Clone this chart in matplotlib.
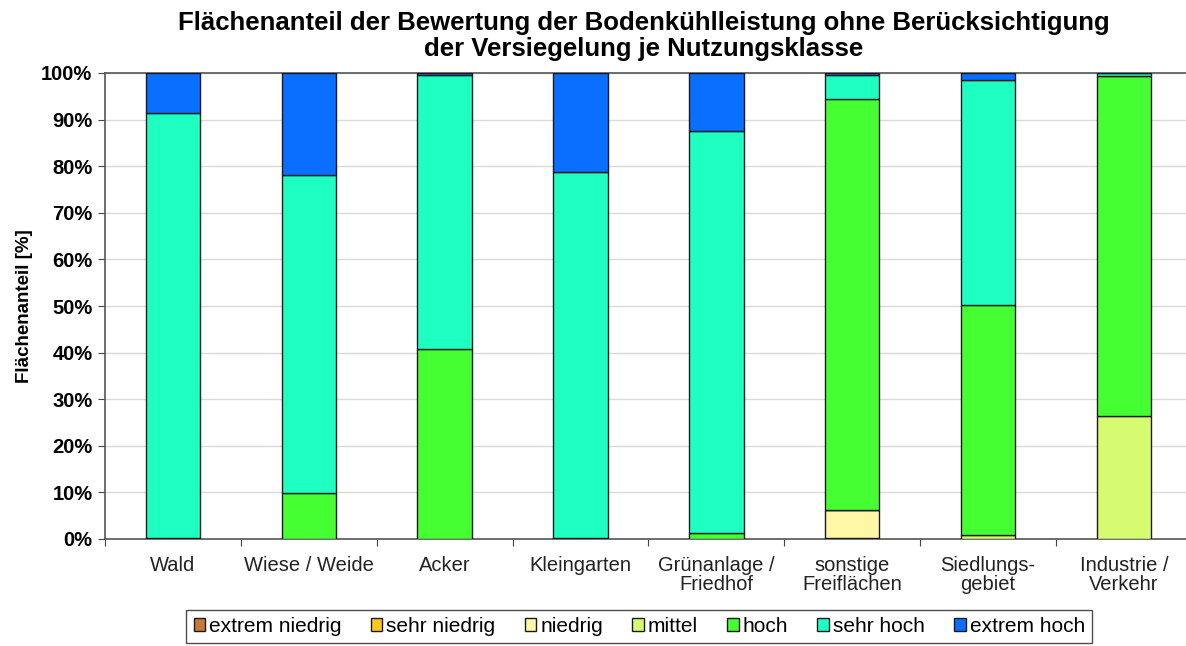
import matplotlib
matplotlib.use('Agg')
import matplotlib.pyplot as plt
import numpy as np

plt.rcParams['font.family'] = ['Liberation Sans', 'DejaVu Sans']

# Daten (Flächenanteil in %)
kategorien = ['Wald', 'Wiese / Weide', 'Acker', 'Kleingarten', 'Grünanlage /\nFriedhof',
              'sonstige\nFreiflächen', 'Siedlungs-\ngebiet', 'Industrie /\nVerkehr']
klassen = ['extrem niedrig', 'sehr niedrig', 'niedrig', 'mittel', 'hoch', 'sehr hoch', 'extrem hoch']
farben = ['#C8783A', '#FFC61E', '#FFF6A6', '#D6FA70', '#46FF32', '#1EFFC2', '#0A6EFF']

extrem_niedrig = [0.0, 0.0, 0.0, 0.0, 0.0, 0.2, 0.0, 0.0]
sehr_niedrig = [0.0, 0.0, 0.0, 0.0, 0.0, 0.1, 0.0, 0.0]
niedrig = [0.0, 0.0, 0.0, 0.0, 0.0, 5.9, 0.0, 0.0]
mittel = [0.0, 0.0, 0.0, 0.0, 0.0, 0.0, 0.8, 26.4]
hoch = [0.3, 9.9, 40.8, 0.3, 1.3, 88.2, 49.4, 72.9]
sehr_hoch = [91.2, 68.2, 58.8, 78.5, 86.3, 5.2, 48.2, 0.7]
extrem_hoch = [8.5, 21.9, 0.4, 21.2, 12.4, 0.4, 1.6, 0.0]

werte = [extrem_niedrig, sehr_niedrig, niedrig, mittel, hoch, sehr_hoch, extrem_hoch]

fig = plt.figure(figsize=(11.86, 6.46), dpi=100)
ax = fig.add_axes([105 / 1186, 107 / 646, 1 - 105 / 1186 + 0.005, 466 / 646])

x = np.arange(len(kategorien))
unten = np.zeros(len(kategorien))
for name, farbe, w in zip(klassen, farben, werte):
    ax.bar(x, w, bottom=unten, width=0.4, color=farbe, edgecolor='#1a1a1a',
           linewidth=1.0, label=name, zorder=3)
    unten += np.array(w)

ax.set_xlim(-0.5, 7.5)
ax.set_ylim(0, 100)
ax.set_yticks(np.arange(0, 101, 10))
ax.set_yticklabels([f'{v}%' for v in range(0, 101, 10)], fontsize=14.5, fontweight='bold')
ax.set_xticks(np.arange(-0.5, 7.5, 1), minor=False)
ax.set_xticklabels([])
ax.set_xticks(x, minor=True)
ax.set_xticklabels(kategorien, minor=True, fontsize=14.5, color='#222222', linespacing=1.0)
ax.tick_params(axis='x', which='minor', length=0, pad=12)
ax.tick_params(axis='x', which='major', length=5, direction='out', color='#444444')
ax.tick_params(axis='y', length=5, color='#444444', pad=4)
ax.grid(axis='y', color='#d9d9d9', linewidth=1.0, zorder=0)

ax.spines['right'].set_visible(False)
for s in ['left', 'top', 'bottom']:
    ax.spines[s].set_color('#555555')
    ax.spines[s].set_linewidth(1.2)

ax.set_ylabel('Flächenanteil [%]', fontsize=13.5, fontweight='bold', labelpad=6)
fig.suptitle('Flächenanteil der Bewertung der Bodenkühlleistung ohne Berücksichtigung\n'
             'der Versiegelung je Nutzungsklasse', fontsize=18.5, fontweight='bold',
             x=0.543, y=0.983, linespacing=1.1)

leg = fig.legend(loc='lower center', bbox_to_anchor=(0.539, -0.012), ncol=7, fontsize=15,
                 frameon=True, fancybox=False, edgecolor='#222222',
                 handlelength=0.55, handleheight=0.55, handletextpad=0.2, columnspacing=1.4,
                 borderpad=0.35)
leg.get_frame().set_linewidth(1.0)

fig.savefig('out.png', dpi=100)
